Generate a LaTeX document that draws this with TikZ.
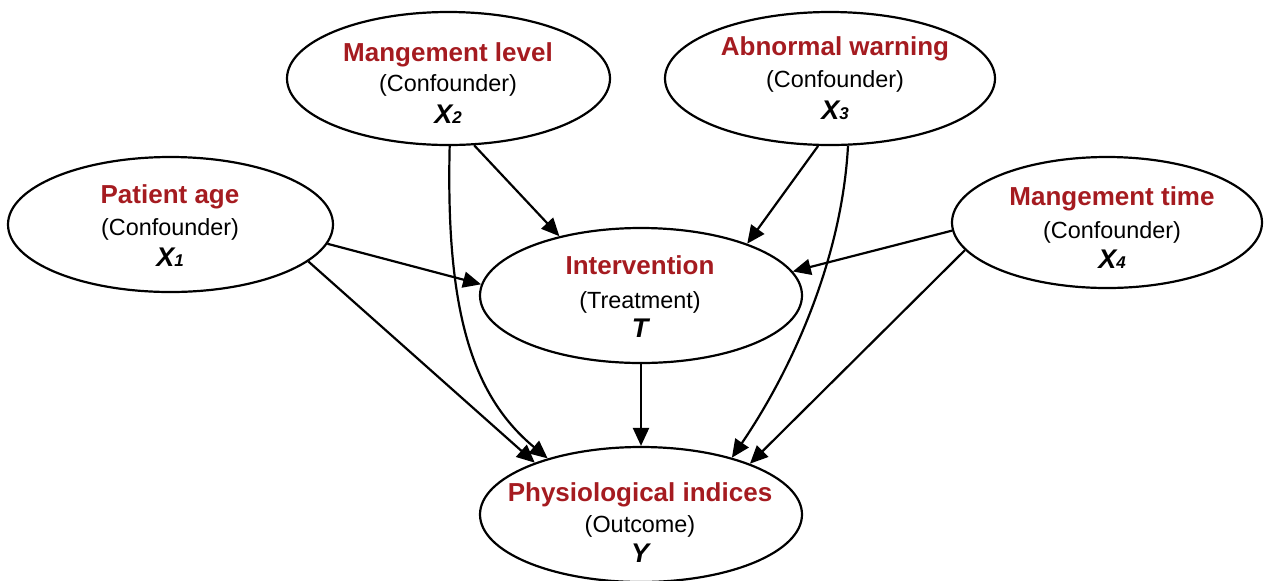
\documentclass[tikz,border=0pt]{standalone}
\usepackage{fontspec}
\setmainfont{Liberation Sans}
\usetikzlibrary{shapes.geometric,arrows.meta}
\definecolor{causalred}{RGB}{165,27,32}
\newcommand\subidx[1]{{\fontsize{8.5}{9}\selectfont #1}}

\tikzset{
  var/.style={draw, ellipse, line width=1.1pt, inner sep=0pt},
  ttl/.style={anchor=base, inner sep=0pt, text=causalred,
              font=\fontsize{13}{15}\selectfont\bfseries},
  role/.style={anchor=base, inner sep=0pt,
               font=\fontsize{11.7}{14}\selectfont},
  sym/.style={anchor=base, inner sep=0pt,
              font=\fontsize{13.5}{15}\selectfont\bfseries\itshape},
  arr/.style={-{Triangle[length=9pt,width=8pt]}, line width=1.1pt},
}

\begin{document}
\begin{tikzpicture}[x=0.5pt,y=-0.5pt]
\useasboundingbox (0,0) rectangle (1264,580);

% confounders
\node[var, minimum width=161.5pt, minimum height=66.5pt] (X2) at (448.5,78.5) {};
\node[ttl]  (X2t) at (448,61.5) {Mangement level};
\node[role] (X2r) at (448,91.5) {(Confounder)};
\node[sym]  (X2s) at (448,123) {X\subidx{2}};

\node[var, minimum width=165pt, minimum height=66.5pt] (X3) at (830,78.5) {};
\node[ttl]  (X3t) at (835,55) {Abnormal warning};
\node[role] (X3r) at (835,87) {(Confounder)};
\node[sym]  (X3s) at (835,119) {X\subidx{3}};

\node[var, minimum width=162.5pt, minimum height=67.5pt] (X1) at (170.5,224.5) {};
\node[ttl]  (X1t) at (170,203) {Patient age};
\node[role] (X1r) at (170,235) {(Confounder)};
\node[sym]  (X1s) at (170,266) {X\subidx{1}};

\node[var, minimum width=155pt, minimum height=65.5pt] (X4) at (1107,222.5) {};
\node[ttl]  (X4t) at (1112,205) {Mangement time};
\node[role] (X4r) at (1112,238) {(Confounder)};
\node[sym]  (X4s) at (1112,268) {X\subidx{4}};

% treatment and outcome
\node[var, minimum width=161pt, minimum height=67.5pt] (T) at (641,295.5) {};
\node[ttl]  (Tt) at (640,274) {Intervention};
\node[role] (Tr) at (640,308) {(Treatment)};
\node[sym]  (Ts) at (640,337) {T};

\node[var, minimum width=161pt, minimum height=67.5pt] (Y) at (641,514.5) {};
\node[ttl]  (Yt) at (640,501) {Physiological indices};
\node[role] (Yr) at (640,532) {(Outcome)};
\node[sym]  (Ys) at (640,562) {Y};

% edges into the treatment
\draw[arr] (X2.-69) -- (T.144);
\draw[arr] (X3.-100) -- (T.26);
\draw[arr] (X1.-7) -- (T.176);
\draw[arr] (X4.-177) -- (T.9);

% edges into the outcome
\draw[arr] (T.south) -- (Y.north);
\draw[arr] (X1.-15) -- (Y.154);
\draw[arr] (X4.191) -- (Y.25);
\draw[arr] (X2.-89) .. controls +(-4,164) and +(-76,-63) .. (Y.149);
\draw[arr] (X3.-75) .. controls +(-6,113) and +(60,-88) .. (Y.32);
\end{tikzpicture}
\end{document}
